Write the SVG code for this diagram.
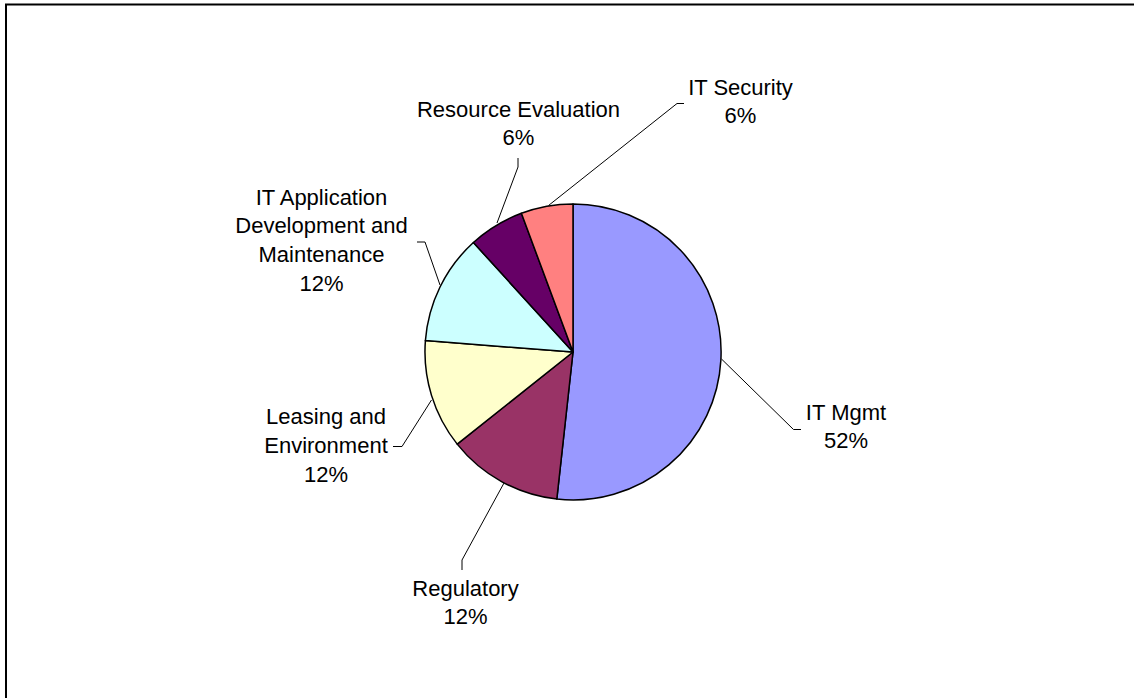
<svg xmlns="http://www.w3.org/2000/svg" width="1134" height="698" viewBox="0 0 1134 698">
<style>
.slice{stroke:#000;stroke-width:1.5;stroke-linejoin:round}
.lead{fill:none;stroke:#000;stroke-width:1}
.lbl{font-family:"Liberation Sans",Arial,sans-serif;font-size:22px;fill:#000;text-anchor:middle}
</style>
<rect width="1134" height="698" fill="#fff"/>
<path d="M6,698 V4.5 H1134" fill="none" stroke="#000" stroke-width="2"/>
<g id="connectors">
<polyline class="lead" points="684,103.5 677,103.5 548.5,205.5"/>
<polyline class="lead" points="518,158 518,167 497,223"/>
<polyline class="lead" points="417,242 425,242 440,285"/>
<polyline class="lead" points="393,446.5 402,446.5 431.5,400"/>
<polyline class="lead" points="462,570 462,560 504,483"/>
<polyline class="lead" points="801,429.5 793.5,429.5 721.5,359"/>
</g>
<g id="it-mgmt">
<path class="slice" fill="#9999FF" d="M573,352 L573,204 A148,148 0 1 1 556.8,499.1 Z"/>
<text class="lbl" x="846" y="420">IT Mgmt</text>
<text class="lbl" x="846" y="448">52%</text>
</g>
<g id="regulatory">
<path class="slice" fill="#993366" d="M573,352 L556.8,499.1 A148,148 0 0 1 457.2,444.1 Z"/>
<text class="lbl" x="465.5" y="596">Regulatory</text>
<text class="lbl" x="465.5" y="624">12%</text>
</g>
<g id="leasing">
<path class="slice" fill="#FFFFCC" d="M573,352 L457.2,444.1 A148,148 0 0 1 425.4,340.6 Z"/>
<text class="lbl" x="326" y="424">Leasing and</text>
<text class="lbl" x="326" y="453">Environment</text>
<text class="lbl" x="326" y="482">12%</text>
</g>
<g id="it-app">
<path class="slice" fill="#CCFFFF" d="M573,352 L425.4,340.6 A148,148 0 0 1 473.4,242.5 Z"/>
<text class="lbl" x="321.5" y="205">IT Application</text>
<text class="lbl" x="321.5" y="233">Development and</text>
<text class="lbl" x="321.5" y="262">Maintenance</text>
<text class="lbl" x="321.5" y="291">12%</text>
</g>
<g id="resource-evaluation">
<path class="slice" fill="#660066" d="M573,352 L473.4,242.5 A148,148 0 0 1 521.4,213.3 Z"/>
<text class="lbl" x="518.5" y="117">Resource Evaluation</text>
<text class="lbl" x="518.5" y="145">6%</text>
</g>
<g id="it-security">
<path class="slice" fill="#FF8080" d="M573,352 L521.4,213.3 A148,148 0 0 1 573,204 Z"/>
<text class="lbl" x="740.5" y="95">IT Security</text>
<text class="lbl" x="740.5" y="123">6%</text>
</g>
</svg>
